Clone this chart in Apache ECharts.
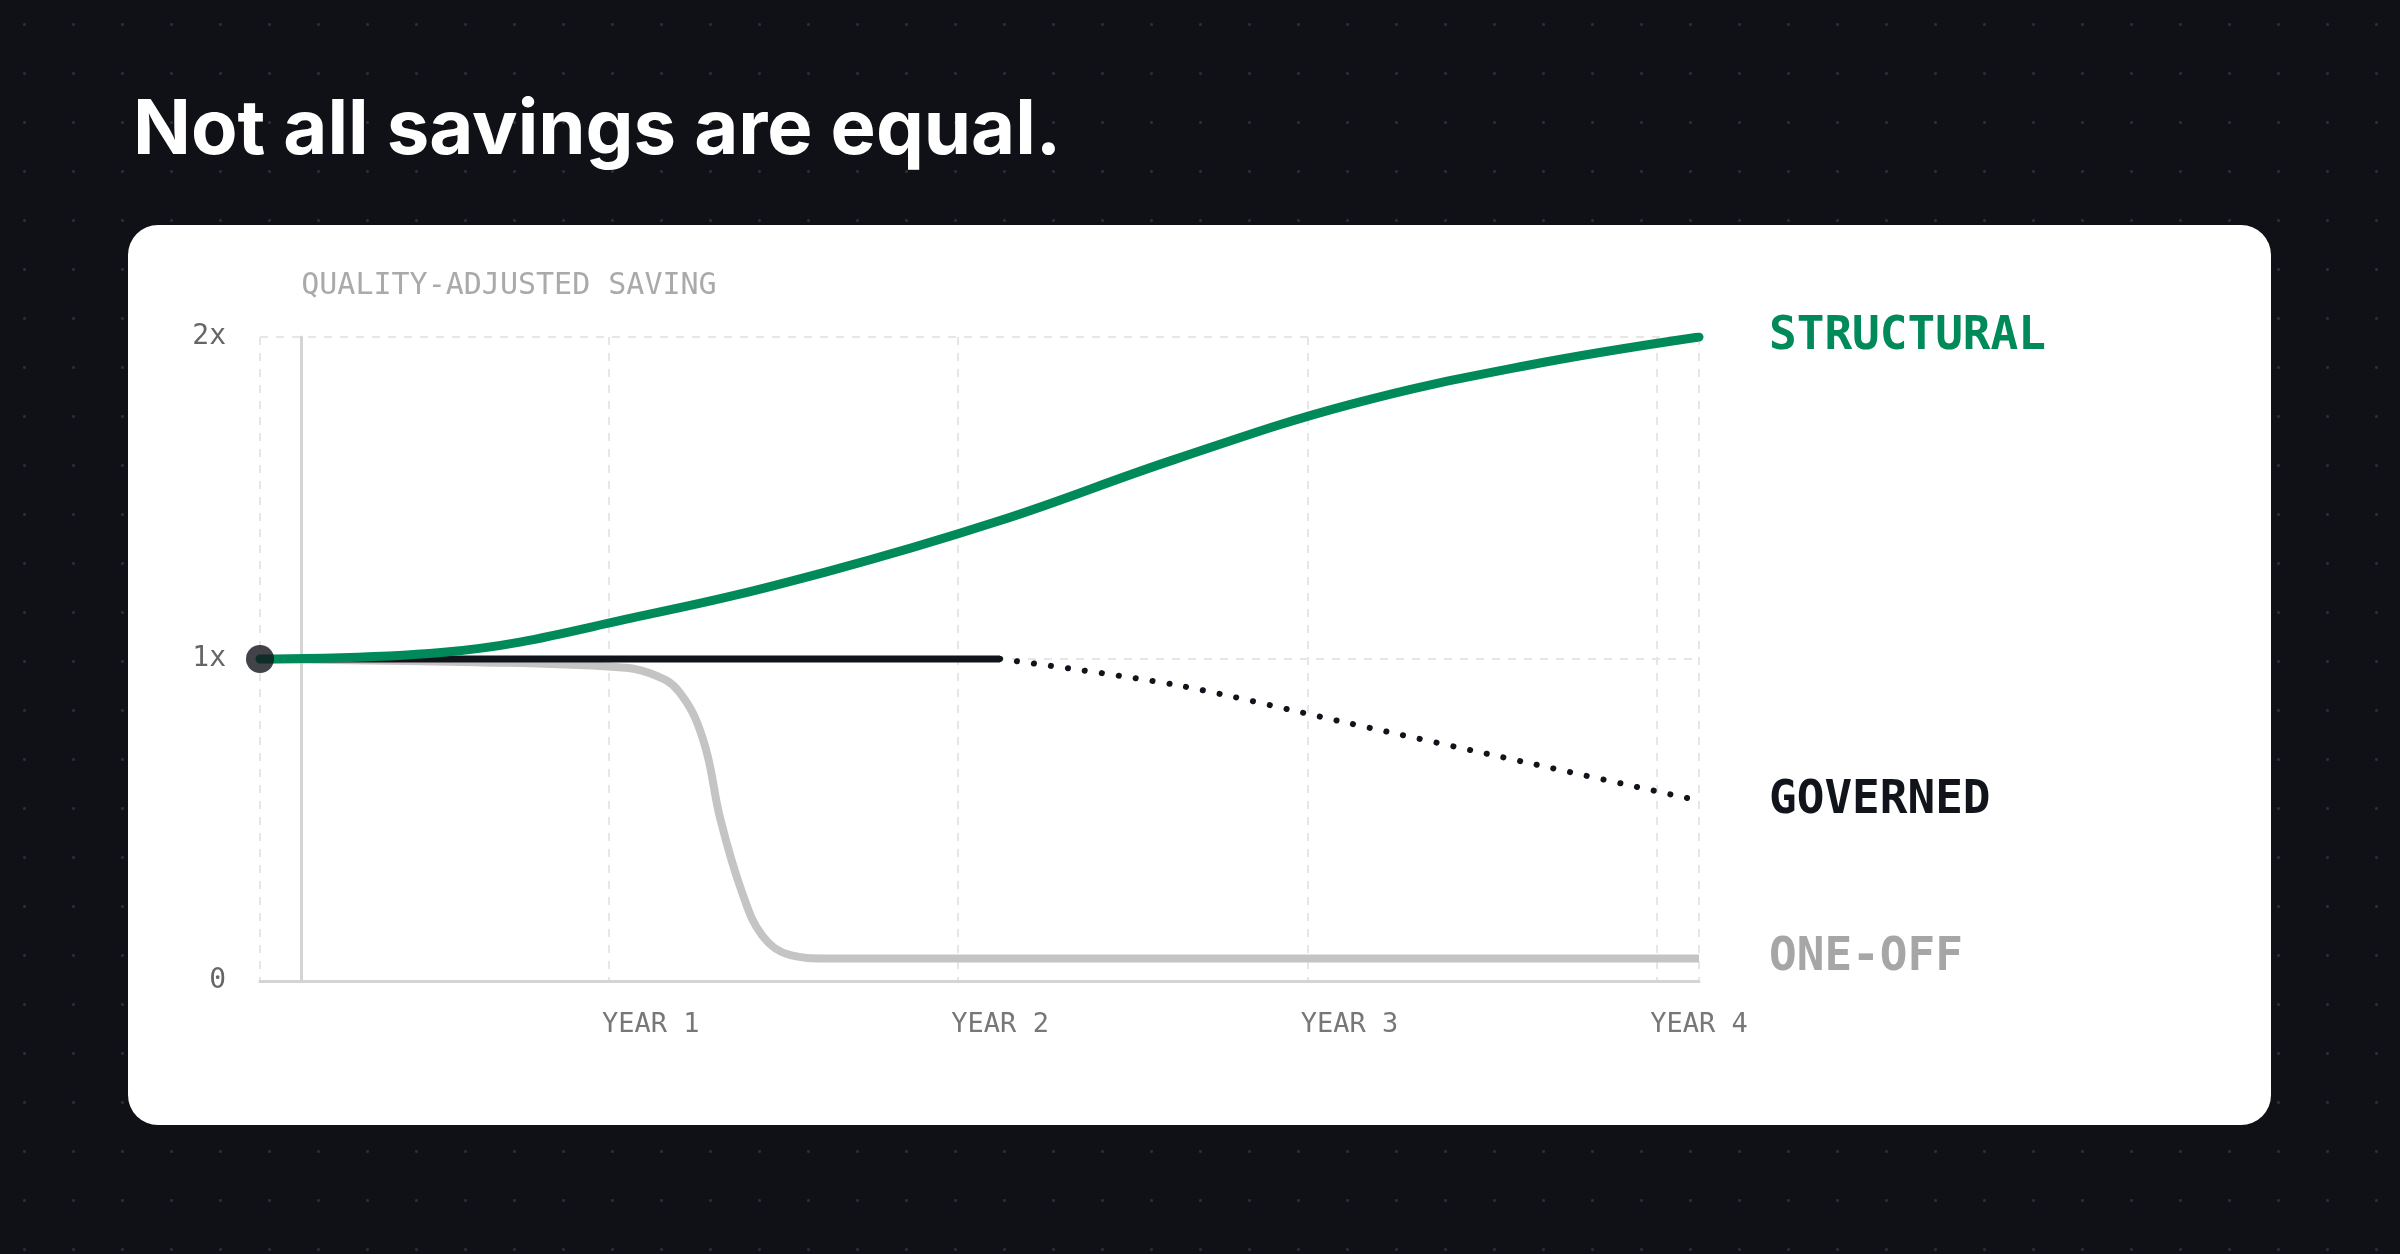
<!DOCTYPE html>
<html><head><meta charset="utf-8">
<script src="https://cdn.jsdelivr.net/npm/echarts@6/dist/echarts.min.js"></script>
<style>
html,body{margin:0;padding:0;width:2400px;height:1254px;overflow:hidden;
background-color:#0f1117;background-image:radial-gradient(circle,#2a2e36 1.3px,transparent 1.6px);background-size:49px 49px;}
#card{position:absolute;left:128px;top:225px;width:2143px;height:900px;background:#fff;border-radius:30px;}
#c{position:absolute;left:0;top:0;width:2400px;height:1254px;}
</style></head><body>
<div id="card"></div><div id="c"></div>
<script>
const titleText = "Not all savings are equal.";
const yAxisName = "QUALITY-ADJUSTED SAVING";
const xTicks = {1:"YEAR 1",2:"YEAR 2",3:"YEAR 3",4:"YEAR 4"};
const yTicks = {0:"0",1:"1x",2:"2x"};
const start = -0.118;
const structural = [[start,1.0],[0.4,1.02],[1,1.14],[1.5,1.27],[2,1.43],[2.5,1.62],[3,1.79],[3.5,1.91],[4,2.0]];
const governedSolid = [[start,1.0],[2,1.0]];
const governedDotted = [[2,1.0],[2.5,0.92],[3,0.8],[3.5,0.68],[4,0.56]];
const oneOff = [[start,1.0],[0.5,0.99],[0.9,0.975],[1.0,0.955],[1.08,0.9],[1.15,0.75],[1.2,0.5],[1.26,0.28],[1.32,0.14],[1.4,0.08],[1.5,0.07],[4,0.07]];
const mono = "DejaVu Sans Mono";
const chart = echarts.init(document.getElementById('c'));
const lbl = (color)=>({show:true,formatter:'{a}',distance:70,fontFamily:mono,fontWeight:'bold',fontSize:46,color:color});
chart.setOption({
  animation:false,
  title:{text:titleText,left:128,top:88,textStyle:{color:'#fff',fontFamily:'Inter',fontWeight:'bold',fontSize:76}},
  grid:{left:260,right:701,top:337,bottom:1254-981},
  xAxis:{type:'value',min:start,max:4,interval:1,
    axisLine:{show:true,onZero:false,lineStyle:{color:'#d4d4d4',width:3}},axisTick:{show:false},
    splitLine:{show:true,lineStyle:{type:[8,8],color:'#e6e6e6',width:2}},
    axisLabel:{margin:30,fontFamily:mono,fontSize:27,color:'#777',
      formatter:v=>xTicks[Math.round(v*1000)/1000]||'',customValues:[1,2,3,4]}},
  yAxis:{type:'value',min:0,max:2,interval:1,name:yAxisName,nameLocation:'end',nameGap:36,
    nameTextStyle:{align:'left',fontFamily:mono,fontSize:30,color:'#aaa'},
    axisLine:{show:true,lineStyle:{color:'#d4d4d4',width:3}},axisTick:{show:false},
    splitLine:{show:true,lineStyle:{type:[8,8],color:'#e6e6e6',width:2}},
    axisLabel:{margin:34,fontFamily:mono,fontSize:28,color:'#666',formatter:v=>yTicks[v]}},
  series:[
    {name:'ONE-OFF',type:'line',data:oneOff,smooth:0.4,symbol:'none',lineStyle:{color:'#c4c4c4',width:8},endLabel:lbl('#a6a6a6'),z:2},
    {name:'GOVERNED-solid',type:'line',data:governedSolid,symbol:'none',lineStyle:{color:'#12141c',width:7},z:3},
    {name:'GOVERNED',type:'line',data:governedDotted,smooth:0.3,symbol:'none',lineStyle:{color:'#12141c',width:6,type:[0.1,17],cap:'round'},endLabel:lbl('#12141c'),z:3},
    {name:'STRUCTURAL',type:'line',data:structural,smooth:0.4,symbol:'none',lineStyle:{color:'#008a5a',width:9,cap:'round'},endLabel:lbl('#008a5a'),z:4},
    {name:'start',type:'scatter',data:[[start,1]],symbolSize:28,itemStyle:{color:'#12141c'},z:5}
  ]
});
</script></body></html>
